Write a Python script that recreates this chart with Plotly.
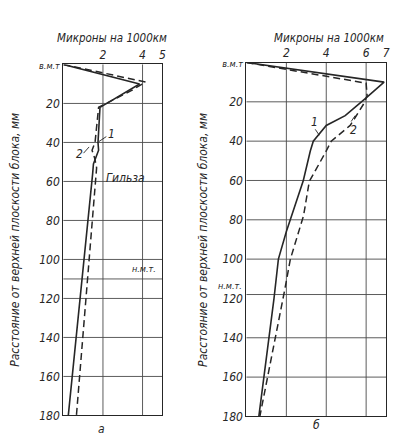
import plotly.graph_objects as go

# ---- data (depth from top of block, mm ; wear, microns per 1000 km) ----
# panel a
a_depth_1 = [0, 10, 22, 40, 44, 47, 51, 56, 180]
a_wear_1 = [0, 3.85, 1.85, 1.75, 1.78, 1.68, 1.52, 1.48, 0.25]
a_depth_2 = [0, 9, 13, 22, 40, 44, 48, 53, 180]
a_wear_2 = [0, 4.15, 3.5, 1.78, 1.6, 1.45, 1.58, 1.68, 0.66]
# panel b
b_depth_1 = [0, 10, 18, 27, 32, 40, 45, 60, 86, 100, 120, 180]
b_wear_1 = [0, 6.9, 6.0, 4.95, 4.0, 3.35, 3.2, 2.85, 2.0, 1.6, 1.38, 0.62]
b_depth_2 = [0, 10.5, 17, 21.5, 32, 40, 45, 60.5, 78, 100, 115.5, 180]
b_wear_2 = [0, 6.0, 6.05, 5.85, 5.2, 4.25, 4.0, 3.15, 2.86, 2.2, 1.92, 0.67]

a_xticks = [2, 4, 5]
b_xticks = [2, 4, 6, 7]
a_xgrid = [2, 4]
b_xgrid = [2, 4, 6]
y_ticks = [0, 20, 40, 60, 80, 100, 120, 140, 160, 180]
a_ygrid = [20, 40, 60, 80, 100, 110, 120, 140, 160]
b_ygrid = [20, 40, 60, 80, 100, 118, 140, 160]
a_bdc = 110
b_bdc = 118

x_title = "Микроны на 1000км"
y_title = "Расстояние от верхней плоскости блока, мм"
tdc_label = "в.м.т"
bdc_label = "н.м.т."

FONT = "DejaVu Sans Condensed, Liberation Sans Narrow, Arial Narrow, sans-serif"
INK = "#262626"
W, H = 397, 440


def px(x):
    return x / W


def py(y):
    return 1 - y / H


fig = go.Figure()
line_solid = dict(color=INK, width=1.6)
line_dash = dict(color=INK, width=1.5, dash="7px,4px")

fig.add_trace(go.Scatter(x=a_wear_1, y=a_depth_1, mode="lines", line=line_solid,
                         xaxis="x", yaxis="y", showlegend=False))
fig.add_trace(go.Scatter(x=a_wear_2, y=a_depth_2, mode="lines", line=line_dash,
                         xaxis="x", yaxis="y", showlegend=False))
fig.add_trace(go.Scatter(x=b_wear_1, y=b_depth_1, mode="lines", line=line_solid,
                         xaxis="x2", yaxis="y2", showlegend=False))
fig.add_trace(go.Scatter(x=b_wear_2, y=b_depth_2, mode="lines", line=line_dash,
                         xaxis="x2", yaxis="y2", showlegend=False))

tickfont = dict(family=FONT, size=12, color=INK, style="italic")
ytext = ["<span style='font-size:9px'>" + tdc_label + "</span>"] + [str(v) for v in y_ticks[1:]]

common_x = dict(side="top", showgrid=False, zeroline=False, showline=True, mirror=True,
                linecolor=INK, linewidth=1.2, ticks="", tickfont=tickfont, ticklabelstandoff=0)
common_y = dict(autorange=False, range=[180, 0], showgrid=False, zeroline=False, showline=True,
                mirror=True, linecolor=INK, linewidth=1.2, ticks="", tickfont=tickfont,
                tickmode="array", tickvals=y_ticks, ticktext=ytext)

fig.update_layout(
    width=W, height=H, margin=dict(l=0, r=0, t=0, b=0),
    paper_bgcolor="white", plot_bgcolor="white",
    xaxis=dict(domain=[px(64), px(164)], range=[0, 5], anchor="y",
               tickmode="array", tickvals=a_xticks, **common_x),
    yaxis=dict(domain=[py(422), py(62)], anchor="x", **common_y),
    xaxis2=dict(domain=[px(249), px(390)], range=[0, 7], anchor="y2",
                tickmode="array", tickvals=b_xticks, **common_x),
    yaxis2=dict(domain=[py(423), py(60)], anchor="x2", **common_y),
)

grid = dict(color="#4a4a4a", width=0.9)
for xv in a_xgrid:
    fig.add_shape(type="line", xref="x", yref="y domain", x0=xv, x1=xv, y0=0, y1=1, line=grid, layer="below")
for xv in b_xgrid:
    fig.add_shape(type="line", xref="x2", yref="y2 domain", x0=xv, x1=xv, y0=0, y1=1, line=grid, layer="below")
for yv in a_ygrid:
    fig.add_shape(type="line", xref="x domain", yref="y", x0=0, x1=1, y0=yv, y1=yv, line=grid, layer="below")
for yv in b_ygrid:
    fig.add_shape(type="line", xref="x2 domain", yref="y2", x0=0, x1=1, y0=yv, y1=yv, line=grid, layer="below")

# leader lines for curve labels
lead = dict(color=INK, width=0.9)
fig.add_shape(type="line", xref="x", yref="y", x0=2.17, y0=37, x1=1.8, y1=39.5, line=lead)
fig.add_shape(type="line", xref="x", yref="y", x0=1.02, y0=45.5, x1=1.3, y1=42.3, line=lead)
fig.add_shape(type="line", xref="x2", yref="y2", x0=3.45, y0=34, x1=3.65, y1=37, line=lead)
fig.add_shape(type="line", xref="x2", yref="y2", x0=5.25, y0=30, x1=5.45, y1=27, line=lead)

afont = dict(family=FONT, size=12, color=INK, style="italic")
tfont = dict(family=FONT, size=11.5, color=INK, style="italic")
sfont = dict(family=FONT, size=9, color=INK, style="italic")


def pa(text, x, y, font, **kw):
    d = dict(text=text, xref="paper", yref="paper", x=px(x), y=py(y), showarrow=False,
             xanchor="center", yanchor="middle", font=font)
    d.update(kw)
    return d


ann = []
ann.append(pa(x_title, 113, 35, tfont))
ann.append(pa(x_title, 332, 35, tfont))
ann.append(pa(y_title, 15, 242, afont, textangle=-90))
ann.append(pa(y_title, 205, 242, afont, textangle=-90))
ann.append(dict(text="1", xref="x", yref="y", x=2.45, y=35.5, showarrow=False, font=afont))
ann.append(dict(text="2", xref="x", yref="y", x=0.8, y=46, showarrow=False, font=afont))
ann.append(dict(text="Гильза", xref="x", yref="y", x=2.05, y=58, xanchor="left", showarrow=False, font=afont))
ann.append(dict(text=bdc_label, xref="x", yref="y", x=4.05, y=a_bdc - 5, showarrow=False, font=sfont))
ann.append(pa(bdc_label, 246, 289, sfont, xanchor="right"))
ann.append(dict(text="1", xref="x2", yref="y2", x=3.4, y=30.5, showarrow=False, font=afont))
ann.append(dict(text="2", xref="x2", yref="y2", x=5.35, y=34.5, showarrow=False, font=afont))
ann.append(pa("а", 103, 436, afont))
ann.append(pa("б", 320, 432, afont))
fig.update_layout(annotations=ann)

fig.write_html("out.html")
